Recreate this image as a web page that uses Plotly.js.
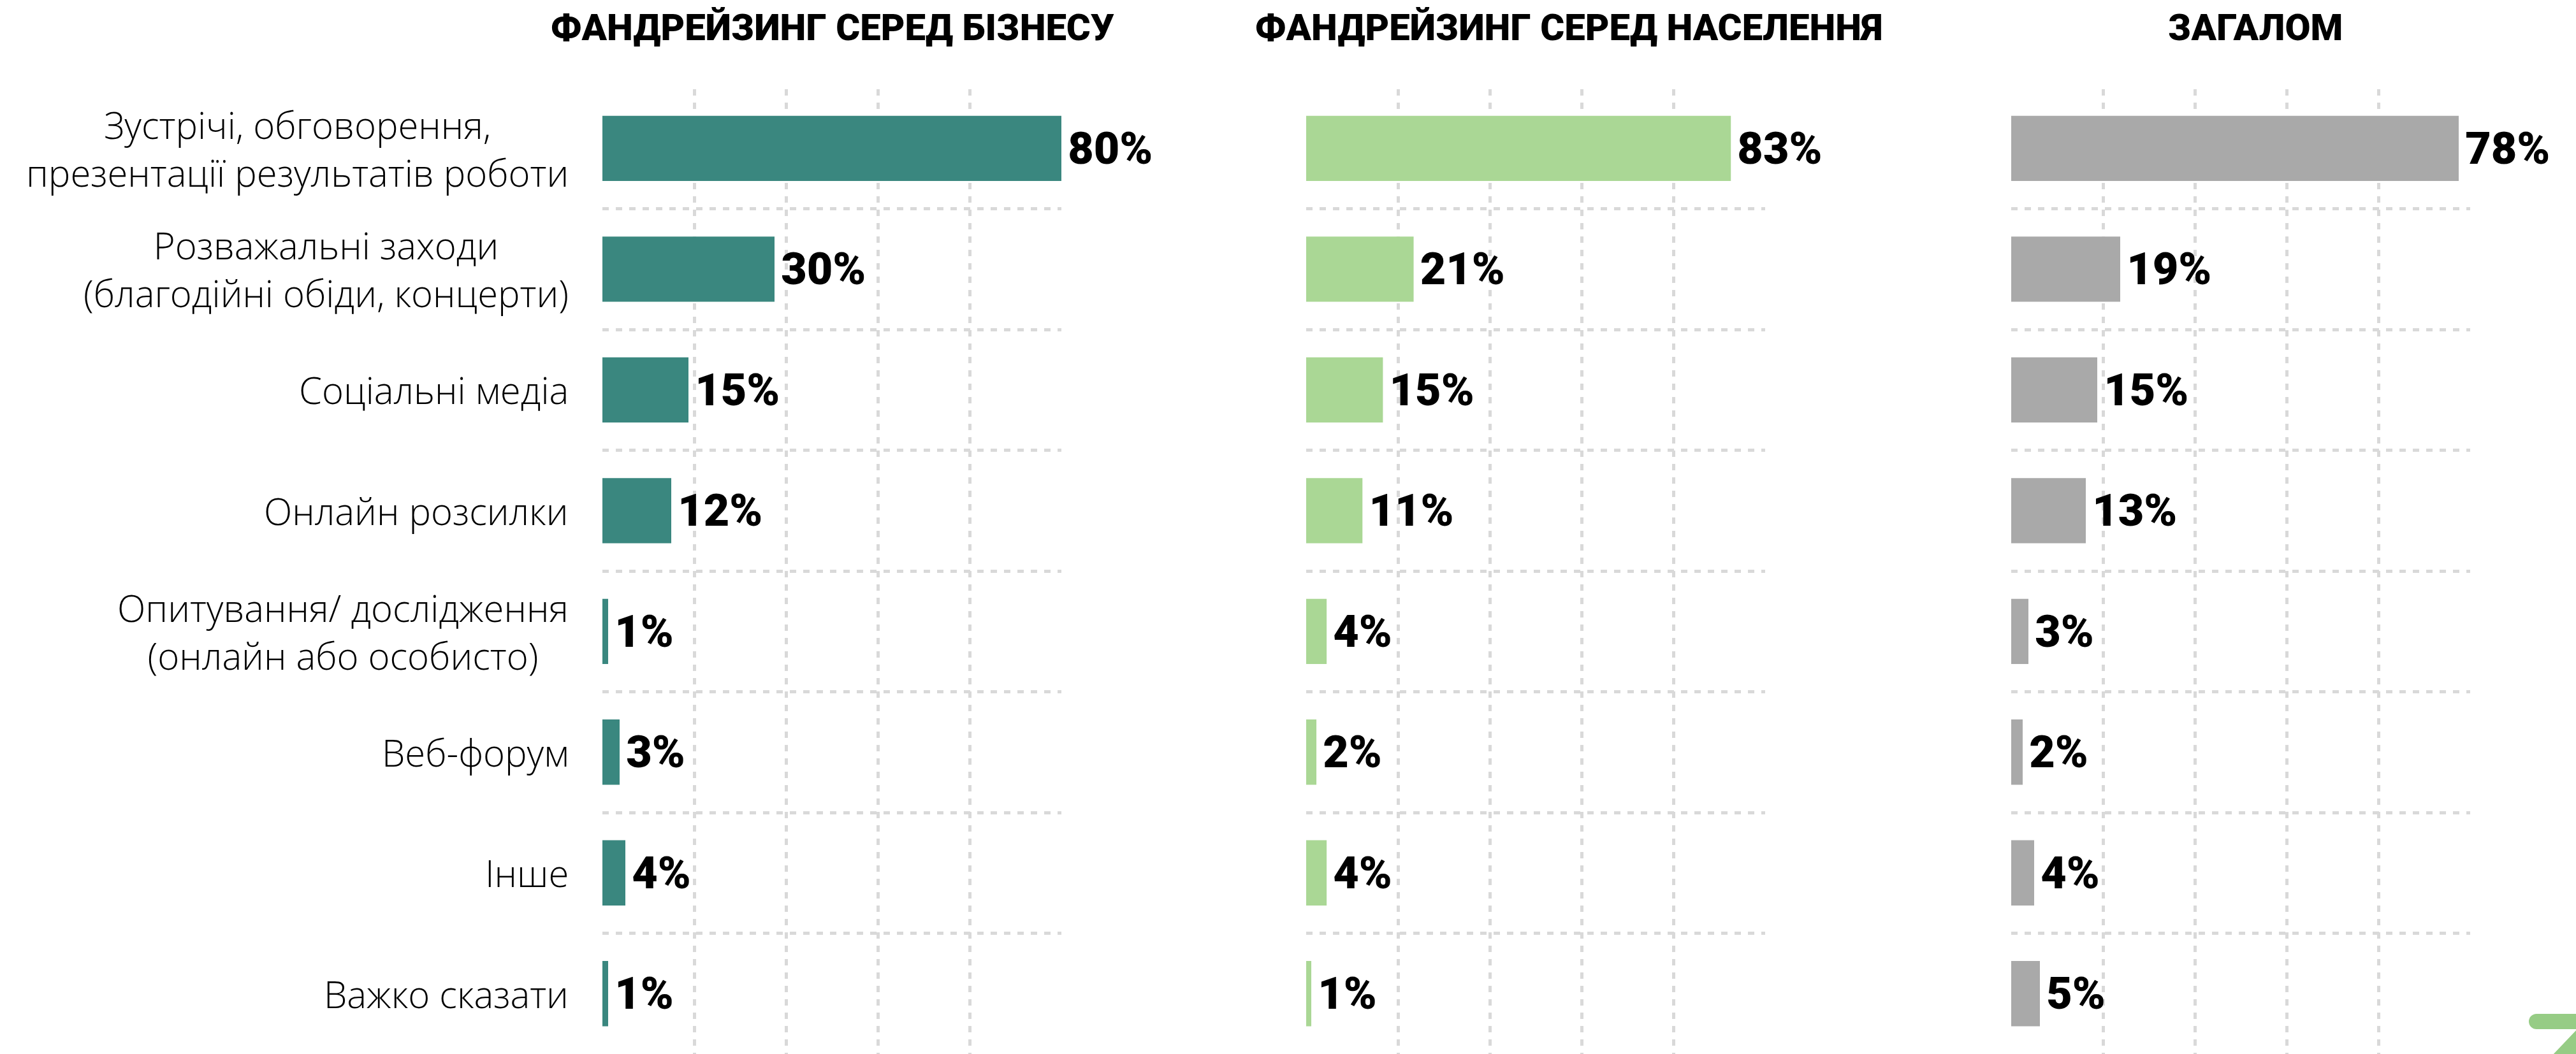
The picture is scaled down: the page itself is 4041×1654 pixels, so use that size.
<!DOCTYPE html>
<html>
<head>
<meta charset="utf-8">
<script src="https://cdn.plot.ly/plotly-3.0.1.min.js"></script>
<style>
  html, body { margin: 0; padding: 0; background: #ffffff; }
  #chart { width: 4041px; height: 1654px; }
</style>
</head>
<body>
<div id="chart"></div>
<script>
// ---- data ----
const categories = [
  "Зустрічі, обговорення,<br>презентації результатів роботи",
  "Розважальні заходи<br>(благодійні обіди, концерти)",
  "Соціальні медіа",
  "Онлайн розсилки",
  "Опитування/ дослідження<br>(онлайн або особисто)",
  "Веб-форум",
  "Інше",
  "Важко сказати"
];
const business = [80, 30, 15, 12, 1, 3, 4, 1];
const population = [83, 21, 15, 11, 4, 2, 4, 1];
const overall = [78, 19, 15, 13, 3, 2, 4, 5];
const panelTitles = ["ФАНДРЕЙЗИНГ СЕРЕД БІЗНЕСУ", "ФАНДРЕЙЗИНГ СЕРЕД НАСЕЛЕННЯ", "ЗАГАЛОМ"];

// ---- style / layout ----
const W = 4041, H = 1654, TOP = 140, BOTTOM = 0;
const plotH = H - TOP - BOTTOM;
const colors = ["#3a877f", "#aad795", "#a9a9a9"];
const series = [business, population, overall];
const ranges = [80, 89.7, 80];
const domainsPx = [[945, 1665], [2049, 2769], [3155, 3875]];
const titleCentersPx = [1306, 2461, 3538];
const gridColor = "#d9d9d9";
const gridDash = "10px,11px";
const boldFont = "Roboto, 'Noto Sans', sans-serif";
const lightFont = "'Open Sans', 'Noto Sans', sans-serif";

const px = x => x / W;
const py = y => (H - BOTTOM - y) / plotH;

const data = series.map((vals, i) => ({
  type: "bar",
  orientation: "h",
  x: vals,
  y: categories,
  xaxis: i === 0 ? "x" : "x" + (i + 1),
  yaxis: i === 0 ? "y" : "y" + (i + 1),
  marker: { color: colors[i] },
  width: 0.54,
  texttemplate: "\u200A%{x}%",
  textposition: "outside",
  cliponaxis: false,
  constraintext: "none",
  textfont: { family: boldFont, size: 70, weight: 900, color: "#000000" },
  hoverinfo: "skip"
}));

const layout = {
  width: W,
  height: H,
  margin: { l: 0, r: 0, t: TOP, b: BOTTOM, pad: 0 },
  paper_bgcolor: "#ffffff",
  plot_bgcolor: "rgba(0,0,0,0)",
  showlegend: false,
  annotations: [],
  shapes: []
};

series.forEach((vals, i) => {
  const sfx = i === 0 ? "" : String(i + 1);
  const R = ranges[i];
  layout["xaxis" + sfx] = {
    domain: [px(domainsPx[i][0]), px(domainsPx[i][1])],
    range: [0, R],
    anchor: "y" + sfx,
    tickmode: "array",
    tickvals: [1, 2, 3, 4].map(k => k * R / 5),
    showticklabels: false,
    showgrid: true,
    gridcolor: gridColor,
    gridwidth: 5,
    griddash: gridDash,
    zeroline: false,
    showline: false,
    ticks: "",
    fixedrange: true
  };
  layout["yaxis" + sfx] = {
    domain: [0, 1],
    anchor: "x" + sfx,
    type: "category",
    categoryorder: "array",
    categoryarray: categories,
    range: [categories.length - 0.5, -0.49],
    tickson: "boundaries",
    showticklabels: false,
    showgrid: true,
    gridcolor: gridColor,
    gridwidth: 5,
    griddash: gridDash,
    zeroline: false,
    showline: false,
    ticks: "",
    fixedrange: true
  };
  layout.annotations.push({
    xref: "paper", yref: "paper",
    x: px(titleCentersPx[i]), y: py(43),
    xanchor: "center", yanchor: "middle",
    text: panelTitles[i],
    showarrow: false,
    font: { family: boldFont, size: 58, weight: 900, color: "#000000" }
  });
});

categories.forEach(c => {
  layout.annotations.push({
    xref: "paper", yref: "y",
    x: px(894), y: c,
    xanchor: "right", yanchor: "middle",
    align: "center",
    text: c,
    showarrow: false,
    font: { family: lightFont, size: 58, weight: 300, color: "#000000" }
  });
});

// corner logo fragment
const logo = "#96cc85";
layout.shapes.push({
  type: "path", xref: "paper", yref: "paper", layer: "above",
  path: `M ${px(3979)},${py(1591)} L ${px(4045)},${py(1591)} L ${px(4045)},${py(1658)} L ${px(4002)},${py(1658)} L ${px(4043)},${py(1615)} L ${px(3979)},${py(1615)} Z`,
  fillcolor: logo, line: { width: 0 }
});
layout.shapes.push({
  type: "circle", xref: "paper", yref: "paper", layer: "above",
  x0: px(3967), x1: px(3991), y0: py(1615), y1: py(1591),
  fillcolor: logo, line: { width: 0 }
});

Plotly.newPlot("chart", data, layout, { staticPlot: true, displayModeBar: false });
</script>
</body>
</html>
